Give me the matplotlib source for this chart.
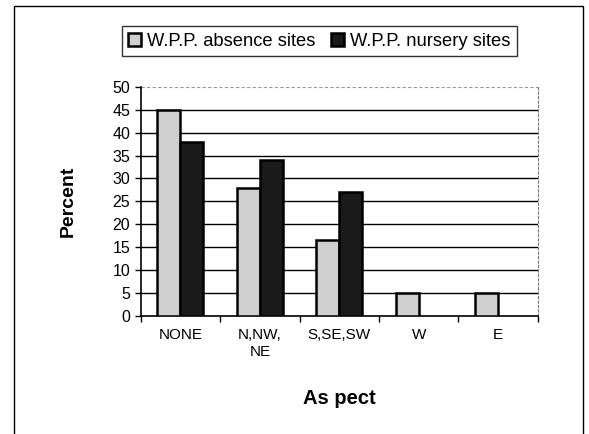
import matplotlib
matplotlib.use("Agg")
import matplotlib.pyplot as plt
import numpy as np
from matplotlib.patches import Rectangle

plt.rcParams['font.family'] = ['Liberation Sans', 'DejaVu Sans']

aspects = ["NONE", "N,NW,\nNE", "S,SE,SW", "W", "E"]
absence = [45, 28, 16.5, 5, 5]
nursery = [38, 34, 27, 0, 0]

fig = plt.figure(figsize=(5.89, 4.34), dpi=100)
ax = fig.add_axes([0.239, 0.272, 0.674, 0.528])

x = np.arange(len(aspects))
w = 0.29
b1 = ax.bar(x - w / 2, absence, w, color="#cfcfcf", edgecolor="black", linewidth=1.8,
            label="W.P.P. absence sites", zorder=3)
b2 = ax.bar(x + w / 2, nursery, w, color="#1a1a1a", edgecolor="black", linewidth=1.8,
            label="W.P.P. nursery sites", zorder=3)
# no bars drawn for zero values
for r, v in zip(b2, nursery):
    if v == 0:
        r.set_visible(False)

ax.set_xlim(-0.5, len(aspects) - 0.5)
ax.set_ylim(0, 50)
ax.set_yticks(range(0, 51, 5))
for y in range(5, 50, 5):
    ax.axhline(y, color="black", linewidth=1.0, zorder=1)
ax.axhline(50, color="#999999", linewidth=0.8, linestyle=(0, (3, 2)), zorder=1)

ax.set_xticks(x)
ax.set_xticklabels(aspects, fontsize=11)
ax.set_xticks(np.arange(-0.5, len(aspects), 1), minor=True)
ax.tick_params(axis="x", which="major", length=0, pad=9)
ax.tick_params(axis="x", which="minor", length=4, width=1)
ax.tick_params(axis="y", labelsize=11.5, length=4, width=1)

ax.spines["top"].set_visible(False)
ax.spines["right"].set_color("#777777")
ax.spines["right"].set_linestyle((0, (2, 2)))
ax.spines["left"].set_linewidth(1.2)
ax.spines["bottom"].set_linewidth(1.2)

ax.set_ylabel("Percent", fontsize=14, fontweight="bold", labelpad=26)
ax.set_xlabel("As pect", fontsize=14.5, fontweight="bold", labelpad=22)

fig.legend(handles=[b1, b2], loc="center", bbox_to_anchor=(0.542, 0.905),
           ncol=2, fontsize=13.2, frameon=True, fancybox=False, edgecolor="black",
           handlelength=0.7, handleheight=0.7, handletextpad=0.3, columnspacing=0.9,
           borderpad=0.35)

# outer chart frame
fig.patches.append(Rectangle((14 / 589, -0.01), (583 - 14) / 589, 1 - 6 / 434 + 0.01,
                             transform=fig.transFigure, fill=False,
                             edgecolor="black", linewidth=1.0))

fig.savefig("out.png", dpi=100)
